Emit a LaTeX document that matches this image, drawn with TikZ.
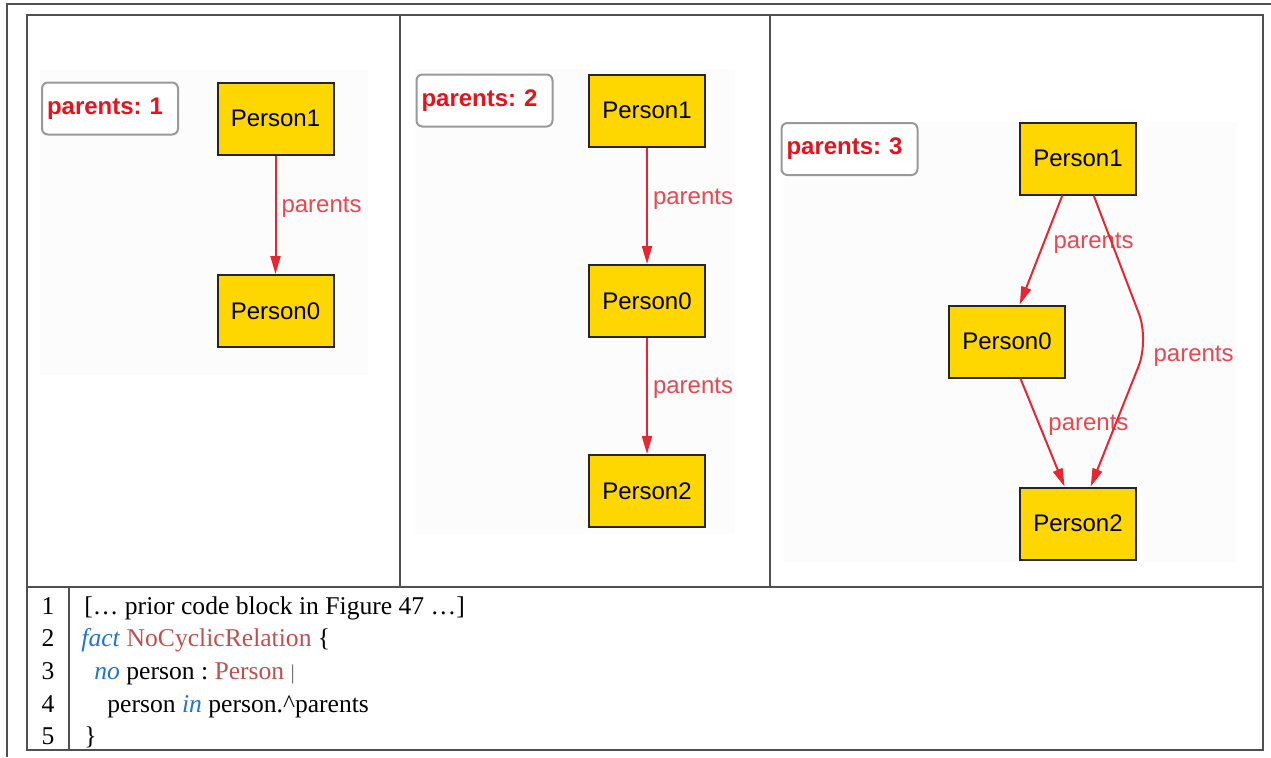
\documentclass[tikz,border=0pt]{standalone}
\usepackage{fontspec}
\setmainfont{Liberation Serif}
\newfontfamily\alloyfont{Liberation Sans}
\usetikzlibrary{arrows.meta}
\definecolor{alYellow}{HTML}{FFD700}
\definecolor{alRed}{HTML}{E62630}
\definecolor{alLbl}{HTML}{E8121B}
\definecolor{kwBlue}{HTML}{2173D0}
\definecolor{kwRed}{HTML}{C0504D}
\definecolor{ruleGray}{HTML}{505050}

\begin{document}
\begin{tikzpicture}[x=0.5pt,y=-0.5pt,
  pers/.style={draw=black!85,line width=1pt,fill=alYellow,minimum width=58pt,minimum height=36pt,inner sep=0pt,font=\alloyfont\fontsize{12}{14}\selectfont},
  cnt/.style={draw=black!40,rounded corners=3pt,line width=1pt,fill=white,text width=63pt,inner xsep=2.5pt,minimum height=26pt,align=left,text=alLbl,font=\alloyfont\bfseries\fontsize{12}{14}\selectfont},
  rel/.style={draw=alRed,line width=1pt,-{Triangle[length=9pt,width=5pt]}},
  rl/.style={right,inner sep=1.5pt,text=alRed!85,font=\alloyfont\fontsize{12}{14}\selectfont},
  bg/.style={fill=black!1.2,draw=none},
  num/.style={anchor=base,inner sep=0pt,font=\fontsize{12.8}{16}\selectfont},
  ln/.style={anchor=base west,inner sep=0pt,font=\fontsize{12.8}{16}\selectfont\frenchspacing}]
  \useasboundingbox (0,0) rectangle (1271,757);
  % frame and table rules
  \draw[ruleGray,line width=1pt] (7,757) -- (7,4) -- (1271,4);
  \draw[ruleGray,line width=0.7pt] (27,15) rectangle (1263,750);
  \draw[ruleGray,line width=0.7pt] (27,587) -- (1263,587);
  \draw[ruleGray,line width=0.7pt] (400,15) -- (400,587) (770,15) -- (770,587);
  \draw[ruleGray,line width=0.7pt] (69,587) -- (69,750);
  % instance 1
  \fill[bg] (40,70) rectangle (368,375);
  \node[cnt] (k1) at (110,108.5) {parents:\ 1};
  \node[pers] (a1) at (275.5,118.5) {Person1};
  \node[pers] (a0) at (275.5,311) {Person0};
  \draw[rel] (a1) -- node[rl,pos=.44,xshift=1pt] {parents} (a0);
  % instance 2
  \fill[bg] (415,69) rectangle (735,534);
  \node[cnt] (k2) at (484.5,100.5) {parents:\ 2};
  \node[pers] (b1) at (647,110.5) {Person1};
  \node[pers] (b0) at (647,301) {Person0};
  \node[pers] (b2) at (647,491) {Person2};
  \draw[rel] (b1) -- node[rl,pos=.44,xshift=1pt] {parents} (b0);
  \draw[rel] (b0) -- node[rl,pos=.43,xshift=1pt] {parents} (b2);
  % instance 3
  \fill[bg] (783,122) rectangle (1237,562);
  \node[cnt] (k3) at (849.5,149) {parents:\ 3};
  \node[pers] (c1) at (1078,158.5) {Person1};
  \node[pers] (c0) at (1007,341.5) {Person0};
  \node[pers] (c2) at (1078,523.5) {Person2};
  \coordinate (bend) at (1149,340);
  \draw[rel] (c1.-113) -- node[rl,pos=.44,xshift=3pt] {parents} (c0.71);
  \draw[rel] (c0.-70) -- node[rl,pos=.43,xshift=2.5pt] {parents} (c2.110);
  \draw[rel,rounded corners=14pt] (c1.-67) -- (bend) -- node[rl,pos=.11,xshift=3.5pt] {parents} (c2.71);
  % code listing
  \node[num] (n1) at (48,614) {1};
  \node[num] (n2) at (48,646) {2};
  \node[num] (n3) at (48,679) {3};
  \node[num] (n4) at (48,712) {4};
  \node[num] (n5) at (48,744) {5};
  \node[ln] (l1) at (84,614) {[… prior code block in Figure 47 …]};
  \node[ln] (l2) at (81,646) {\textcolor{kwBlue}{\textit{fact}} \textcolor{kwRed}{NoCyclicRelation} \{};
  \node[ln] (l3) at (94,679) {\textcolor{kwBlue}{\textit{no}} person : \textcolor{kwRed}{Person} {\color{black!60}\fontsize{10.5}{10}\selectfont|}};
  \node[ln] (l4) at (107,712) {person \textcolor{kwBlue}{\textit{in}} person.\textasciicircum parents};
  \node[ln] (l5) at (84,744) {\}};
\end{tikzpicture}
\end{document}
